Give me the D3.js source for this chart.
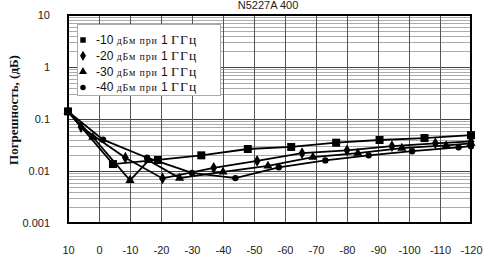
<!DOCTYPE html>
<html>
<head>
<meta charset="utf-8">
<script src="https://cdn.jsdelivr.net/npm/d3@7"></script>
<style>
  body { margin: 0; background: #fff; }
  svg { display: block; }
</style>
</head>
<body>
<div id="chart"></div>
<script>
const width = 483;
const height = 255;
const plot = {left: 68, right: 471, top: 15, bottom: 223};

// x axis tick labels
const xTicks = [10, 0, -10, -20, -30, -40, -50, -60, -70, -80, -90, -100, -110, -120];
const yTicks = [10, 1, 0.1, 0.01, 0.001];
const yTickLabels = ['10', '1', '0.1', '0.01', '0.001'];

// series
const sqX = [10, -4.5, -19, -33, -48, -62, -76.5, -90.5, -105, -120];
const sqY = [0.14, 0.0136, 0.0163, 0.020, 0.0265, 0.029, 0.035, 0.0395, 0.043, 0.049];

const diX = [10, 5.8, -8.5, -20.5, -37, -51, -65.5, -80, -94.5, -108.5, -120];
const diY = [0.14, 0.07, 0.018, 0.0072, 0.0115, 0.0156, 0.022, 0.025, 0.030, 0.034, 0.037];

const trX = [10, 2, -10, -16, -26, -40, -54.5, -69, -83.5, -97.7, -112, -120];
const trY = [0.14, 0.045, 0.0066, 0.016, 0.0073, 0.0096, 0.0125, 0.0185, 0.022, 0.0276, 0.031, 0.034];

const ciX = [10, -1.3, -15.5, -30, -44, -58, -73, -87, -101, -116, -120];
const ciY = [0.14, 0.040, 0.018, 0.0092, 0.0073, 0.0118, 0.016, 0.020, 0.024, 0.0285, 0.030];

const seriesNames = ['-10', '-20', '-30', '-40'];
const seriesShapes = ['square', 'diamond', 'triangle', 'circle'];

const series = [
  {xs: sqX, ys: sqY},
  {xs: diX, ys: diY},
  {xs: trX, ys: trY},
  {xs: ciX, ys: ciY}
].map((s, i) => ({
  name: seriesNames[i],
  shape: seriesShapes[i],
  points: s.xs.map((x, j) => ({x: x, y: s.ys[j]}))
}));

const svg = d3.select('#chart')
  .append('svg')
  .attr('width', width)
  .attr('height', height);

const x = d3.scaleLinear().domain([10, -120]).range([plot.left, plot.right]);
const y = d3.scaleLog().domain([0.001, 10]).range([plot.bottom, plot.top]);

// minor horizontal grid
const minor = [];
[0.001, 0.01, 0.1, 1].forEach(d => { for (let k = 2; k <= 9; k++) minor.push(d * k); });

svg.append('g').selectAll('line')
  .data(minor)
  .enter().append('line')
  .attr('x1', plot.left).attr('x2', plot.right)
  .attr('y1', d => Math.round(y(d)) + 0.5).attr('y2', d => Math.round(y(d)) + 0.5)
  .attr('stroke', '#ababab')
  .attr('stroke-width', 1);

svg.append('g').selectAll('line')
  .data(yTicks)
  .enter().append('line')
  .attr('x1', plot.left).attr('x2', plot.right)
  .attr('y1', d => Math.round(y(d)) + 0.5).attr('y2', d => Math.round(y(d)) + 0.5)
  .attr('stroke', '#444')
  .attr('stroke-width', 1);

// vertical grid
svg.append('g').selectAll('line')
  .data(xTicks)
  .enter().append('line')
  .attr('x1', d => Math.round(x(d)) + 0.5).attr('x2', d => Math.round(x(d)) + 0.5)
  .attr('y1', plot.top).attr('y2', plot.bottom)
  .attr('stroke', '#555')
  .attr('stroke-width', 1);

// plot border
svg.append('rect')
  .attr('x', plot.left).attr('y', plot.top)
  .attr('width', plot.right - plot.left).attr('height', plot.bottom - plot.top)
  .attr('fill', 'none')
  .attr('stroke', '#000')
  .attr('stroke-width', 2);

// axes
const xAxis = d3.axisBottom(x).tickValues(xTicks).tickSize(0).tickPadding(23)
  .tickFormat(d3.format('d'));
const gx = svg.append('g')
  .attr('transform', 'translate(0,' + plot.bottom + ')')
  .call(xAxis);
gx.select('.domain').remove();
gx.selectAll('text')
  .style('font-family', 'Liberation Sans, Arial, sans-serif')
  .style('font-size', '11px')
  .attr('fill', '#222')
  .text(d => String(d));

const yAxis = d3.axisLeft(y).tickValues(yTicks).tickSize(0).tickPadding(18)
  .tickFormat((d, i) => yTickLabels[i]);
const gy = svg.append('g')
  .attr('transform', 'translate(' + plot.left + ',0)')
  .call(yAxis);
gy.select('.domain').remove();
gy.selectAll('text')
  .style('font-family', 'Liberation Sans, Arial, sans-serif')
  .style('font-size', '11px')
  .attr('fill', '#222');

// title
svg.append('text')
  .attr('x', 268).attr('y', 9)
  .attr('text-anchor', 'middle')
  .style('font-family', 'Liberation Sans, Arial, sans-serif')
  .style('font-size', '11px')
  .attr('fill', '#222')
  .text('N5227A 400');

// y title
svg.append('text')
  .attr('transform', 'translate(18,110) rotate(-90)')
  .attr('text-anchor', 'middle')
  .style('font-family', 'Liberation Serif, Times New Roman, serif')
  .style('font-size', '13px')
  .style('font-weight', 'bold')
  .attr('fill', '#111')
  .text('Погрешность, (дБ)');

// markers
const symbolType = {
  square: d3.symbolSquare,
  diamond: d3.symbolDiamond,
  triangle: d3.symbolTriangle,
  circle: d3.symbolCircle
};
const symbolSize = {square: 64, diamond: 40, triangle: 36, circle: 32};

const line = d3.line()
  .x(d => x(d.x))
  .y(d => y(d.y));

series.forEach(s => {
  svg.append('path')
    .datum(s.points)
    .attr('d', line)
    .attr('fill', 'none')
    .attr('stroke', '#000')
    .attr('stroke-width', 1.8);
});

series.forEach(s => {
  svg.append('g').selectAll('path')
    .data(s.points)
    .enter().append('path')
    .attr('transform', d => 'translate(' + x(d.x) + ',' + y(d.y) + ')')
    .attr('d', d3.symbol().type(symbolType[s.shape]).size(symbolSize[s.shape]))
    .attr('fill', '#000');
});

// legend
const legend = svg.append('g').attr('transform', 'translate(77,24)');
legend.append('rect')
  .attr('x', 0.5).attr('y', 0.5)
  .attr('width', 143).attr('height', 71)
  .attr('fill', '#fff')
  .attr('stroke', '#aaa')
  .attr('stroke-width', 1);

const legendSize = {square: 30, diamond: 30, triangle: 28, circle: 24};
series.forEach((s, i) => {
  const cy = 16 + i * 15.8;
  legend.append('path')
    .attr('transform', 'translate(6,' + cy + ')')
    .attr('d', d3.symbol().type(symbolType[s.shape]).size(legendSize[s.shape]))
    .attr('fill', '#000');
  const t = legend.append('text')
    .attr('x', 19).attr('y', cy + 4)
    .attr('fill', '#111');
  t.append('tspan')
    .style('font-family', 'Liberation Sans, Arial, sans-serif')
    .style('font-size', '12px')
    .text(s.name + ' ');
  t.append('tspan')
    .style('font-family', 'Liberation Serif, Times New Roman, serif')
    .style('font-size', '10px')
    .style('letter-spacing', '0.8px')
    .text('дБм при ');
  t.append('tspan')
    .style('font-family', 'Liberation Serif, Times New Roman, serif')
    .style('font-size', '1px')
    .text(' ');
  t.append('tspan')
    .style('font-family', 'Liberation Sans, Arial, sans-serif')
    .style('font-size', '12px')
    .text('1 ');
  t.append('tspan')
    .style('font-family', 'Liberation Serif, Times New Roman, serif')
    .style('font-size', '13.5px')
    .style('letter-spacing', '1.2px')
    .text('ГГц');
});
</script>
</body>
</html>
